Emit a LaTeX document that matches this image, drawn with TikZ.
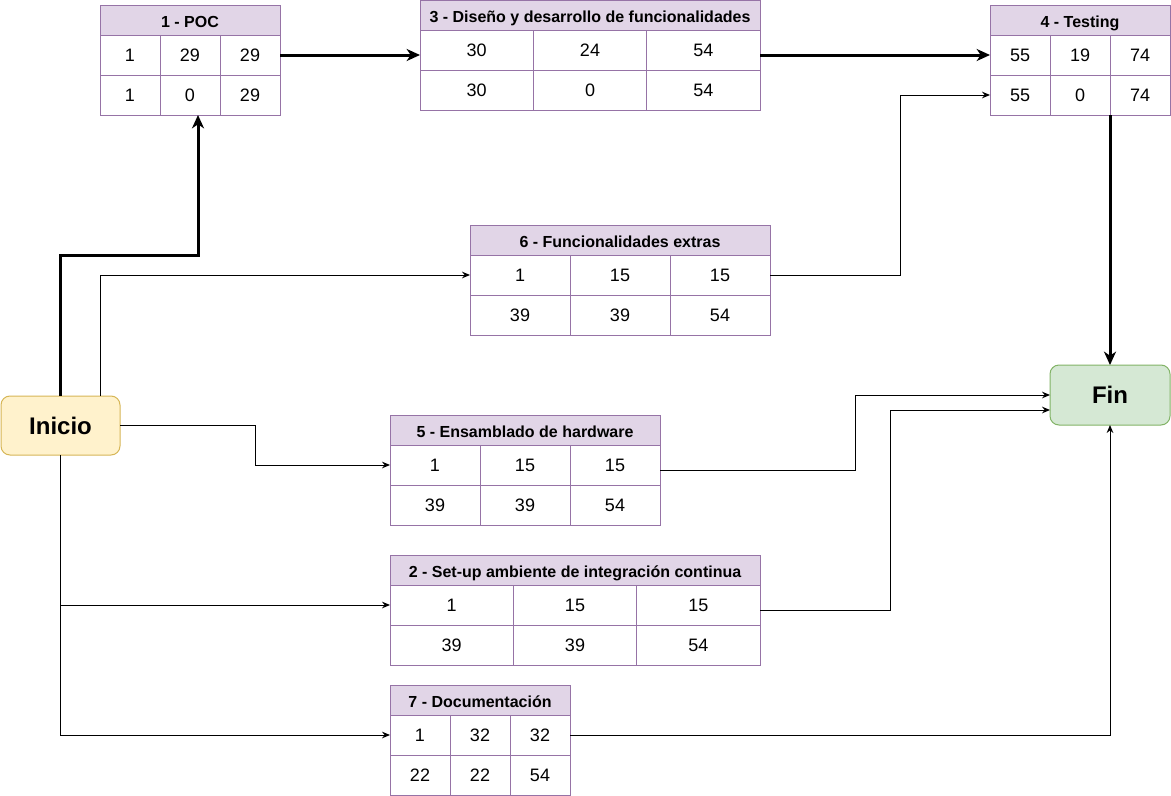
\documentclass[tikz,border=0pt]{standalone}
\usepackage{fontspec}
\setmainfont{Liberation Sans}
\usetikzlibrary{arrows.meta}
\definecolor{hdrfill}{HTML}{E1D5E7}
\definecolor{hdrline}{HTML}{9673A6}
\definecolor{inifill}{HTML}{FFF2CC}
\definecolor{iniline}{HTML}{D6B656}
\definecolor{finfill}{HTML}{D5E8D4}
\definecolor{finline}{HTML}{82B366}
\tikzset{
  hdr/.style={draw=hdrline, fill=hdrfill, line width=0.75pt, inner sep=0pt, outer sep=0pt,
    minimum height=22.5pt, anchor=north west, text height=10.5pt, text depth=0pt,
    font=\bfseries\fontsize{12}{14}\selectfont},
  cell/.style={draw=hdrline, fill=white, line width=0.75pt, inner sep=0pt, outer sep=0pt,
    minimum height=30pt, anchor=north west, font=\fontsize{13.5}{16}\selectfont},
  term/.style={rounded corners=6.75pt, line width=0.75pt, inner sep=0pt, outer sep=0pt,
    minimum width=90pt, minimum height=45pt, font=\bfseries\fontsize{18}{21}\selectfont},
  thickedge/.style={line width=2.25pt, -{Stealth[length=10pt,width=9pt,inset=3pt]}},
  thinedge/.style={line width=0.75pt, -{Stealth[length=6pt,width=5pt,inset=2pt]}},
}
\newcommand{\tabla}[5]{\node[hdr, minimum width=3*#4] (#1h) at (#2,#3) {#5};}
\newcommand{\celdas}[8]{%
  \node[cell, minimum width=#2] (#1a) at (#1h.south west) {#3};
  \node[cell, minimum width=#2] (#1b) at (#1a.north east) {#4};
  \node[cell, minimum width=#2] (#1c) at (#1b.north east) {#5};
  \node[cell, minimum width=#2] (#1d) at (#1a.south west) {#6};
  \node[cell, minimum width=#2] (#1e) at (#1d.north east) {#7};
  \node[cell, minimum width=#2] (#1f) at (#1e.north east) {#8};
}
\begin{document}
\begin{tikzpicture}[x=0.75pt,y=-0.75pt]
\useasboundingbox (0,0) rectangle (1171,796);

% terminals
\node[term, draw=iniline, fill=inifill, minimum width=89.25pt, minimum height=44.25pt] (inicio) at (60.5,425.5) {Inicio};
\node[term, draw=finline, fill=finfill] (fin) at (1110,395) {Fin};

% tables
\tabla{t1}{100}{5}{45pt}{1 - POC}
\celdas{t1}{45pt}{1}{29}{29}{1}{0}{29}

\tabla{t3}{420}{0.5}{85pt}{3 - Diseño y desarrollo de funcionalidades}
\celdas{t3}{85pt}{30}{24}{54}{30}{0}{54}

\tabla{t4}{990}{5}{45pt}{4 - Testing}
\celdas{t4}{45pt}{55}{19}{74}{55}{0}{74}

\tabla{t6}{470}{225}{75pt}{6 - Funcionalidades extras}
\celdas{t6}{75pt}{1}{15}{15}{39}{39}{54}

\tabla{t5}{390}{415}{67.5pt}{5 - Ensamblado de hardware}
\celdas{t5}{67.5pt}{1}{15}{15}{39}{39}{54}

\tabla{t2}{390}{555}{92.5pt}{2 - Set-up ambiente de integración continua}
\celdas{t2}{92.5pt}{1}{15}{15}{39}{39}{54}

\tabla{t7}{390}{685}{45pt}{7 - Documentación}
\celdas{t7}{45pt}{1}{32}{32}{22}{22}{54}

% critical path (thick)
\draw[thickedge] (inicio.north) -- ++(0,-141) -| ([xshift=6pt]t1e.south);
\draw[thickedge] (t1c.east) -- (t1c.east -| t3a.west);
\draw[thickedge] (t4a.west -| t3c.east) -- (t4a.west);
\draw[thickedge] (fin.north |- t4f.south) -- (fin.north);

% other connectors (thin)
\draw[thinedge] ([xshift=30pt]inicio.north) |- (t6a.west);
\draw[thinedge] (t6c.east) -- ++(130,0) |- (t4d.west);
\draw[thinedge] (inicio.east) -- ++(135,0) |- (t5a.west);
\draw[thinedge] (inicio.south) |- (t2a.west);
\draw[thinedge] (inicio.south) |- (t7a.west);
\draw[thinedge] ([yshift=-3.75pt]t5c.east) -- ++(195,0) |- (fin.west);
\draw[thinedge] ([yshift=-3.75pt]t2c.east) -- ++(130,0) |- ([yshift=-11.25pt]fin.west);
\draw[thinedge] (t7c.east) -| (fin.south);
\end{tikzpicture}
\end{document}
